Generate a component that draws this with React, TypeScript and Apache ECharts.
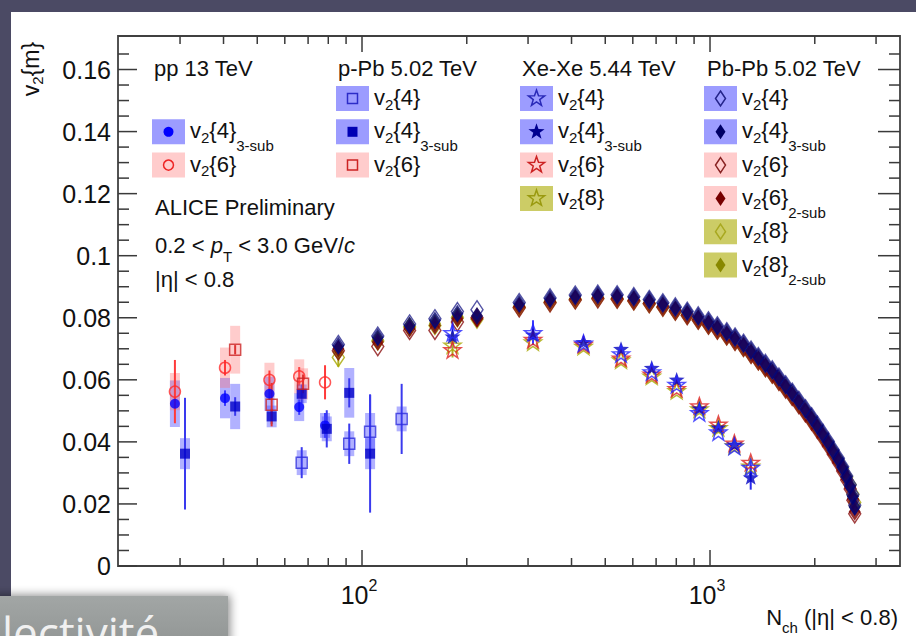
import { useEffect, useRef } from 'react';
import * as echarts from 'echarts';

const FONT = '"Liberation Sans", Arial, Helvetica, sans-serif';
const INK = '#111111';
const TICK = '#3a3a3a';

// ---- axes ----
const X_MIN = 19.9;
const X_MAX = 3515;
const Y_MIN = 0;
const Y_MAX = 0.1708;
const Y_STEP = 0.02;
const X_MAJOR = [100, 1000];
const X_MINOR = [30, 40, 50, 60, 70, 80, 90, 200, 300, 400, 500, 600, 700, 800, 900, 2000, 3000];
const Y_MAJOR = [0, 0.02, 0.04, 0.06, 0.08, 0.1, 0.12, 0.14, 0.16];
const Y_MINOR = [0.005, 0.01, 0.015, 0.025, 0.03, 0.035, 0.045, 0.05, 0.055, 0.065, 0.07, 0.075, 0.085, 0.09, 0.095, 0.105, 0.11, 0.115, 0.125, 0.13, 0.135, 0.145, 0.15, 0.155, 0.165];

// ---- pp 13 TeV ----
const PP_N = [29.0, 40.4, 54.2, 66.0, 78.3];
const PP_V4S = [0.0523, 0.0541, 0.0555, 0.0512, 0.0453];
const PP_V4S_STAT = [0.002, 0.0025, 0.002, 0.0025, 0.004];
const PP_V4S_SYS = [0.0075, 0.0065, 0.0055, 0.0045, 0.004];
const PP_V6 = [0.0562, 0.0639, 0.0600, 0.0611, 0.0592];
const PP_V6_STAT = [0.0102, 0.0025, 0.003, 0.003, 0.0055];
const PP_V6_SYS = [0.006, 0.0065, 0.0055, 0.0055, 0];

// ---- p-Pb 5.02 TeV ----
const PPB_V4_N = [67.1, 91.9, 105.5, 130];
const PPB_V4 = [0.0333, 0.0394, 0.0433, 0.0474];
const PPB_V4_STAT = [0.005, 0.0065, 0.012, 0.0113];
const PPB_V4_SYS = [0.004, 0.004, 0.006, 0.004];
const PPB_V4S_N = [31.0, 43.2, 55.0, 67.1, 79.2, 91.9, 105.5];
const PPB_V4S = [0.0362, 0.0514, 0.0482, 0.0555, 0.0442, 0.0558, 0.0362];
const PPB_V4S_STAT = [0.018, 0.003, 0.0025, 0.003, 0.006, 0.0047, 0.019];
const PPB_V4S_SYS = [0.005, 0.0073, 0.0035, 0.003, 0.004, 0.008, 0.005];
const PPB_V6_N = [43.2, 55.0, 67.7];
const PPB_V6 = [0.0697, 0.0520, 0.0587];
const PPB_V6_STAT = [0.0015, 0.007, 0.003];
const PPB_V6_SYS = [0.0077, 0, 0.005];

// ---- Xe-Xe 5.44 TeV ----
const XE_N = [182, 310, 433, 555, 680, 802, 932, 1057, 1175, 1309];
const XE_V4 = [0.0752, 0.0752, 0.0718, 0.0684, 0.0626, 0.0585, 0.0494, 0.0432, 0.0386, 0.0318];
const XE_V4_STAT = [0.005, 0.004, 0, 0, 0, 0, 0, 0, 0, 0.002];
const XE_V4S = [0.0740, 0.0746, 0.0722, 0.0700, 0.0639, 0.0601, 0.0508, 0.0447, 0.0392, 0.0286];
const XE_V4S_STAT = [0, 0, 0, 0, 0, 0, 0, 0, 0, 0.004];
const XE_V6 = [0.0697, 0.0730, 0.0714, 0.0670, 0.0618, 0.0572, 0.0516, 0.0457, 0.0396, 0.0334];
const XE_V8 = [0.0712, 0.0722, 0.0708, 0.0664, 0.0612, 0.0565, 0.0506, 0.0446, 0.0388, 0.0322];
const XE_V8_STAT = [0.004, 0, 0, 0, 0, 0, 0, 0, 0, 0];

// ---- Pb-Pb 5.02 TeV ----
const PB_N = [85.5, 111, 137, 162, 188, 214, 283, 347, 410, 476, 541, 604, 669, 732, 795, 860, 925, 990, 1050, 1117, 1180, 1248, 1312, 1377, 1443, 1510, 1578, 1650, 1723, 1800, 1880, 1958, 2035, 2110, 2188, 2260, 2338, 2405, 2470, 2528, 2573, 2605];
const PB_V4 = [0.0714, 0.0741, 0.0780, 0.0797, 0.0820, 0.0826, 0.0849, 0.0864, 0.0873, 0.0876, 0.0874, 0.0868, 0.0859, 0.0848, 0.0835, 0.0821, 0.0806, 0.0790, 0.0774, 0.0755, 0.0738, 0.0718, 0.0696, 0.0675, 0.0653, 0.0632, 0.0609, 0.0584, 0.0560, 0.0534, 0.0507, 0.0481, 0.0454, 0.0428, 0.0401, 0.0374, 0.0347, 0.0320, 0.0290, 0.0262, 0.0230, 0.0196];
const PB_V4S = [0.0710, 0.0737, 0.0775, 0.0791, 0.0813, 0.0806, 0.0845, 0.0861, 0.0870, 0.0874, 0.0872, 0.0866, 0.0857, 0.0846, 0.0833, 0.0819, 0.0804, 0.0788, 0.0772, 0.0753, 0.0736, 0.0716, 0.0694, 0.0673, 0.0651, 0.0630, 0.0607, 0.0582, 0.0558, 0.0532, 0.0505, 0.0479, 0.0452, 0.0426, 0.0399, 0.0372, 0.0345, 0.0318, 0.0288, 0.0258, 0.0225, 0.0190];
const PB_V6 = [0.0694, 0.0707, 0.0759, 0.0759, 0.0786, 0.0800, 0.0832, 0.0848, 0.0857, 0.0861, 0.0860, 0.0854, 0.0845, 0.0834, 0.0821, 0.0807, 0.0792, 0.0776, 0.0760, 0.0741, 0.0724, 0.0704, 0.0682, 0.0661, 0.0639, 0.0618, 0.0595, 0.0570, 0.0546, 0.0520, 0.0493, 0.0467, 0.0440, 0.0414, 0.0387, 0.0360, 0.0333, 0.0306, 0.0277, 0.0248, 0.0212, 0.0168];
const PB_V6S = [0.0700, 0.0722, 0.0765, 0.0775, 0.0798, 0.0798, 0.0836, 0.0852, 0.0861, 0.0865, 0.0863, 0.0857, 0.0848, 0.0837, 0.0824, 0.0810, 0.0795, 0.0779, 0.0763, 0.0744, 0.0727, 0.0707, 0.0685, 0.0664, 0.0642, 0.0621, 0.0598, 0.0573, 0.0549, 0.0523, 0.0496, 0.0470, 0.0443, 0.0417, 0.0390, 0.0363, 0.0336, 0.0309, 0.0280, 0.0251, 0.0216, 0.0175];
const PB_V8 = [0.0672, 0.0725, 0.0770, 0.0775, 0.0800, 0.0795, 0.0834, 0.0850, 0.0859, 0.0863, 0.0861, 0.0855, 0.0846, 0.0835, 0.0822, 0.0808, 0.0793, 0.0777, 0.0761, 0.0742, 0.0725, 0.0705, 0.0683, 0.0662, 0.0640, 0.0619, 0.0596, 0.0572, 0.0548, 0.0522, 0.0496, 0.0470, 0.0444, 0.0418, 0.0392, 0.0366, 0.0340, 0.0314, 0.0287, 0.0262, 0.0232, 0.0205];
const PB_V8S = [0.0690, 0.0730, 0.0772, 0.0782, 0.0805, 0.0798, 0.0838, 0.0854, 0.0863, 0.0867, 0.0865, 0.0859, 0.0850, 0.0839, 0.0826, 0.0812, 0.0797, 0.0781, 0.0765, 0.0746, 0.0729, 0.0709, 0.0687, 0.0666, 0.0644, 0.0623, 0.0600, 0.0575, 0.0551, 0.0525, 0.0498, 0.0472, 0.0445, 0.0419, 0.0392, 0.0365, 0.0338, 0.0311, 0.0283, 0.0256, 0.0224, 0.0192];
const PB_V8_STAT = [0.003];

// ---- texts ----
const LEG_TITLES = ['pp 13 TeV', 'p-Pb 5.02 TeV', 'Xe-Xe 5.44 TeV', 'Pb-Pb 5.02 TeV'];
const LEG_PP = [
  { label: 'v{s|2}{4}{ss|3-sub}', mk: 'circle', c: '#0000ff', box: '#9c9cff' },
  { label: 'v{s|2}{6}', mk: 'ocircle', c: '#ee2222', box: '#ffcccc' },
];
const LEG_PPB = [
  { label: 'v{s|2}{4}', mk: 'osquare', c: '#2c2cc8', box: '#9c9cff' },
  { label: 'v{s|2}{4}{ss|3-sub}', mk: 'square', c: '#0000b4', box: '#9c9cff' },
  { label: 'v{s|2}{6}', mk: 'osquare', c: '#cc2222', box: '#ffcccc' },
];
const LEG_XE = [
  { label: 'v{s|2}{4}', mk: 'ostar', c: '#2a2ab8', box: '#9c9cff' },
  { label: 'v{s|2}{4}{ss|3-sub}', mk: 'star', c: '#000090', box: '#9c9cff' },
  { label: 'v{s|2}{6}', mk: 'ostar', c: '#cc2222', box: '#ffcccc' },
  { label: 'v{s|2}{8}', mk: 'ostar', c: '#9a9a10', box: '#cccc66' },
];
const LEG_PB = [
  { label: 'v{s|2}{4}', mk: 'odiamond', c: '#24248a', box: '#9c9cff' },
  { label: 'v{s|2}{4}{ss|3-sub}', mk: 'diamond', c: '#000066', box: '#9c9cff' },
  { label: 'v{s|2}{6}', mk: 'odiamond', c: '#882222', box: '#ffcccc' },
  { label: 'v{s|2}{6}{ss|2-sub}', mk: 'diamond', c: '#770000', box: '#ffcccc' },
  { label: 'v{s|2}{8}', mk: 'odiamond', c: '#a8a820', box: '#cccc66' },
  { label: 'v{s|2}{8}{ss|2-sub}', mk: 'diamond', c: '#888800', box: '#cccc66' },
];
const INFO = ['ALICE Preliminary', '0.2 < {i|p}{t|T} < 3.0 GeV/{i|c}', '|η| < 0.8'];
const Y_TITLE = 'v{s|2}{m}';
const X_TITLE = 'N{s|ch} (|η| < 0.8)';
const OVERLAY_TEXT = 'lectivité';

const STAR = 'path://M0,-10L2.351,-3.236L9.511,-3.09L3.804,1.236L5.878,8.09L0,4L-5.878,8.09L-3.804,1.236L-9.511,-3.09L-2.351,-3.236Z';

const RICH = {
  s: { fontSize: 15, fontFamily: FONT, height: 27, lineHeight: 27, verticalAlign: 'bottom', fill: INK },
  ss: { fontSize: 15, fontFamily: FONT, height: 10, lineHeight: 10, verticalAlign: 'bottom', fill: INK },
  t: { fontSize: 15, fontFamily: FONT, height: 18, lineHeight: 18, verticalAlign: 'bottom', fill: INK },
  i: { fontSize: 22, fontFamily: FONT, fontStyle: 'italic', fill: INK },
};

function markSeries(xs: number[], ys: number[], symbol: any, size: any, color: string, open: boolean, keep = false) {
  return {
    type: 'scatter',
    data: xs.map((x, i) => [x, ys[i]]),
    symbol,
    symbolSize: size,
    symbolKeepAspect: keep,
    silent: true,
    z: 4,
    itemStyle: open
      ? { color: 'rgba(255,255,255,0)', borderColor: color, borderWidth: 1.5 }
      : { color, borderWidth: 0 },
  };
}

function errSeries(xs: number[], ys: number[], stat: number[], sys: number[] | null, statColor: string, boxColor: string) {
  return {
    type: 'custom',
    coordinateSystem: 'cartesian2d',
    silent: true,
    z: 3,
    data: xs.map((x, i) => [x, ys[i], stat[i] || 0, sys ? sys[i] || 0 : 0]),
    encode: { x: 0, y: 1 },
    renderItem: (_p: any, api: any) => {
      const x = api.value(0);
      const y = api.value(1);
      const st = api.value(2);
      const sy = api.value(3);
      const ch: any[] = [];
      if (sy > 0) {
        const t = api.coord([x, y + sy]);
        const b = api.coord([x, y - sy]);
        ch.push({ type: 'rect', shape: { x: t[0] - 5, y: t[1], width: 10, height: b[1] - t[1] }, style: { fill: boxColor } });
      }
      if (st > 0) {
        const t = api.coord([x, y + st]);
        const b = api.coord([x, y - st]);
        ch.push({ type: 'line', shape: { x1: t[0], y1: t[1], x2: b[0], y2: b[1] }, style: { stroke: statColor, lineWidth: 2 } });
      }
      return { type: 'group', children: ch };
    },
  };
}

function starPts(cx: number, cy: number, r: number, ri: number) {
  const pts: number[][] = [];
  for (let k = 0; k < 10; k++) {
    const a = (-90 + k * 36) * Math.PI / 180;
    const rr = k % 2 ? ri : r;
    pts.push([cx + rr * Math.cos(a), cy + rr * Math.sin(a)]);
  }
  return pts;
}

function marker(kind: string, cx: number, cy: number, c: string) {
  const open = kind.startsWith('o');
  const style = open ? { fill: 'none', stroke: c, lineWidth: 1.5 } : { fill: c };
  const base = kind.replace(/^o/, '');
  if (base === 'circle') return { type: 'circle', z: 12, silent: true, shape: { cx, cy, r: 5 }, style };
  if (base === 'square') return { type: 'rect', z: 12, silent: true, shape: { x: cx - 5, y: cy - 5, width: 10, height: 10 }, style };
  if (base === 'star') return { type: 'polygon', z: 12, silent: true, shape: { points: starPts(cx, cy, 8.5, 3.4) }, style };
  return { type: 'polygon', z: 12, silent: true, shape: { points: [[cx, cy - 7.5], [cx + 5, cy], [cx, cy + 7.5], [cx - 5, cy]] }, style };
}

function txt(x: number, y: number, text: string, extra: any = {}) {
  return {
    type: 'text', x, y, z: 12, silent: true,
    style: {
      text, fill: INK, fontSize: 22, fontFamily: FONT, align: 'left', verticalAlign: 'middle', lineHeight: 40, rich: RICH,
      ...extra,
    },
  };
}

function legendGraphics() {
  const els: any[] = [];
  const colX = [152, 336, 520, 704];
  const titleX = [154, 338, 522, 707];
  const cols = [LEG_PP, LEG_PPB, LEG_XE, LEG_PB];
  const start = [1, 0, 0, 0];
  cols.forEach((items, ci) => {
    els.push(txt(titleX[ci], 68, LEG_TITLES[ci]));
    items.forEach((it: any, k: number) => {
      const cy = 98.5 + (k + start[ci]) * 33.3;
      els.push({ type: 'rect', z: 11, silent: true, shape: { x: colX[ci], y: cy - 12.5, width: 33, height: 25 }, style: { fill: it.box } });
      els.push(marker(it.mk, colX[ci] + 16.5, cy, it.c));
      els.push(txt(colX[ci] + 38, cy - 1, it.label));
    });
  });
  els.push(txt(155, 207, INFO[0]));
  els.push(txt(155, 245, INFO[1]));
  els.push(txt(155, 279, INFO[2]));
  els.push({ ...txt(31, 69, Y_TITLE, { align: 'center', fontSize: 23 }), rotation: Math.PI / 2 });
  els.push(txt(898, 617, X_TITLE, { align: 'right', rich: { ...RICH, s: { ...RICH.s, height: 20, lineHeight: 20 } } }));
  return els;
}

export default function App() {
  const ref = useRef<HTMLDivElement>(null);
  useEffect(() => {
    if (!ref.current) return;
    const chart = echarts.init(ref.current, undefined, { renderer: 'svg' });

    const xTickSeries = {
      type: 'custom', coordinateSystem: 'cartesian2d', silent: true, z: 6,
      data: [...X_MAJOR.map((v) => [v, Y_MIN, 1]), ...X_MINOR.map((v) => [v, Y_MIN, 0])],
      encode: { x: 0, y: 1 },
      renderItem: (_p: any, api: any) => {
        const v = api.value(0);
        const L = api.value(2) === 1 ? 16 : 8;
        const b = api.coord([v, Y_MIN]);
        const t = api.coord([v, Y_MAX]);
        return {
          type: 'group', children: [
            { type: 'line', shape: { x1: b[0], y1: b[1], x2: b[0], y2: b[1] - L }, style: { stroke: TICK, lineWidth: 1.5 } },
            { type: 'line', shape: { x1: t[0], y1: t[1], x2: t[0], y2: t[1] + L }, style: { stroke: TICK, lineWidth: 1.5 } },
          ],
        };
      },
    };
    const yTickSeries = {
      type: 'custom', coordinateSystem: 'cartesian2d', silent: true, z: 6,
      data: [...Y_MAJOR.map((v) => [X_MIN, v, 1]), ...Y_MINOR.map((v) => [X_MIN, v, 0])],
      encode: { x: 0, y: 1 },
      renderItem: (_p: any, api: any) => {
        const v = api.value(1);
        const big = api.value(2) === 1;
        const l = api.coord([X_MIN, v]);
        const r = api.coord([X_MAX, v]);
        const Ll = big ? 19 : 11;
        const Lr = big ? 22 : 11;
        return {
          type: 'group', children: [
            { type: 'line', shape: { x1: l[0], y1: l[1], x2: l[0] + Ll, y2: l[1] }, style: { stroke: TICK, lineWidth: 1.5 } },
            { type: 'line', shape: { x1: r[0], y1: r[1], x2: r[0] - Lr, y2: r[1] }, style: { stroke: TICK, lineWidth: 1.5 } },
          ],
        };
      },
    };

    const DIA = [12, 18];
    const series: any[] = [
      xTickSeries,
      yTickSeries,
      // pp
      errSeries(PP_N, PP_V4S, PP_V4S_STAT, PP_V4S_SYS, '#3a3aff', 'rgba(70,70,255,0.42)'),
      errSeries(PP_N, PP_V6, PP_V6_STAT, PP_V6_SYS, '#ff3a3a', 'rgba(255,110,110,0.35)'),
      // p-Pb
      errSeries(PPB_V4_N, PPB_V4, PPB_V4_STAT, PPB_V4_SYS, '#3a3aee', 'rgba(70,70,255,0.42)'),
      errSeries(PPB_V4S_N, PPB_V4S, PPB_V4S_STAT, PPB_V4S_SYS, '#3a3aee', 'rgba(70,70,255,0.42)'),
      errSeries(PPB_V6_N, PPB_V6, PPB_V6_STAT, PPB_V6_SYS, '#dd3333', 'rgba(255,110,110,0.35)'),
      // Xe-Xe errors
      errSeries(XE_N, XE_V4, XE_V4_STAT, null, '#3a3aff', ''),
      errSeries(XE_N, XE_V4S, XE_V4S_STAT, null, '#2a2aee', ''),
      errSeries(XE_N, XE_V8, XE_V8_STAT, null, '#b0b020', ''),
      errSeries(PB_N, PB_V8, PB_V8_STAT, null, '#b0b020', ''),
      markSeries(PP_N, PP_V4S, 'circle', 10, '#0000ff', false),
      markSeries(PP_N, PP_V6, 'circle', 11, '#ff2a2a', true),
      markSeries(PPB_V4_N, PPB_V4, 'rect', 11, '#2c2cdd', true),
      markSeries(PPB_V4S_N, PPB_V4S, 'rect', 10, '#0000c8', false),
      markSeries(PPB_V6_N, PPB_V6, 'rect', 11, '#cc2222', true),
      // Pb-Pb
      markSeries(PB_N, PB_V8, 'diamond', DIA, '#a8a800', true),
      markSeries(PB_N, PB_V8S, 'diamond', DIA, '#8a8a00', false),
      markSeries(PB_N, PB_V6, 'diamond', DIA, '#8b1010', true),
      markSeries(PB_N, PB_V6S, 'diamond', DIA, '#7a0000', false),
      markSeries(PB_N, PB_V4, 'diamond', DIA, '#2a2a90', true),
      markSeries(PB_N, PB_V4S, 'diamond', DIA, '#000070', false),
      // Xe-Xe
      markSeries(XE_N, XE_V8, STAR, 17, '#a8a800', true, true),
      markSeries(XE_N, XE_V6, STAR, 17, '#dd2222', true, true),
      markSeries(XE_N, XE_V4S, STAR, 16, '#0000c0', false, true),
      markSeries(XE_N, XE_V4, STAR, 17, '#2424ff', true, true),
    ];

    const option: any = {
      animation: false,
      backgroundColor: '#4b4a64',
      grid: { left: 118, top: 36, right: 16, bottom: 70, show: true, borderColor: '#404040', borderWidth: 1.8, backgroundColor: 'rgba(0,0,0,0)' },
      xAxis: {
        type: 'log', logBase: 10, min: X_MIN, max: X_MAX,
        axisLine: { show: false }, axisTick: { show: false }, splitLine: { show: false },
        axisLabel: {
          margin: 14, color: INK, padding: [0, 6, 0, 0],
          formatter: (v: number) => {
            const e = Math.log10(v);
            if (Math.abs(e - Math.round(e)) < 1e-6) return '{b|10}{p|' + Math.round(e) + '}';
            return '';
          },
          rich: {
            b: { fontSize: 25, fontFamily: FONT, lineHeight: 30, color: INK },
            p: { fontSize: 16, fontFamily: FONT, height: 10, lineHeight: 10, verticalAlign: 'top', color: INK },
          },
        },
      },
      yAxis: {
        type: 'value', min: Y_MIN, max: Y_MAX, interval: Y_STEP,
        axisLine: { show: false }, axisTick: { show: false }, splitLine: { show: false },
        axisLabel: {
          margin: 7, color: INK, fontSize: 25, fontFamily: FONT, showMaxLabel: false,
          formatter: (v: number) => String(+v.toFixed(2)),
        },
      },
      graphic: [
        { type: 'rect', z: -10, silent: true, shape: { x: 11, y: 12, width: 905, height: 624 }, style: { fill: '#ffffff' } },
        ...legendGraphics(),
        {
          type: 'rect', z: 50, silent: true, shape: { x: -10, y: 596, width: 238, height: 60 },
          style: {
            fill: new echarts.graphic.LinearGradient(0, 0, 0, 1, [{ offset: 0, color: '#a2a6a5' }, { offset: 1, color: '#8e9291' }]),
            shadowBlur: 10, shadowColor: 'rgba(0,0,0,0.45)', shadowOffsetX: 2, shadowOffsetY: -1,
          },
        },
        { type: 'text', z: 51, silent: true, x: 2, y: 654, style: { text: OVERLAY_TEXT, fill: '#f0f0f0', fontSize: 44, fontFamily: '"Open Sans", sans-serif', align: 'left', verticalAlign: 'bottom' } },
      ],
      series,
    };
    chart.setOption(option);
    return () => chart.dispose();
  }, []);
  return <div ref={ref} style={{ position: 'fixed', left: 0, top: 0, width: 916, height: 636 }} />;
}
